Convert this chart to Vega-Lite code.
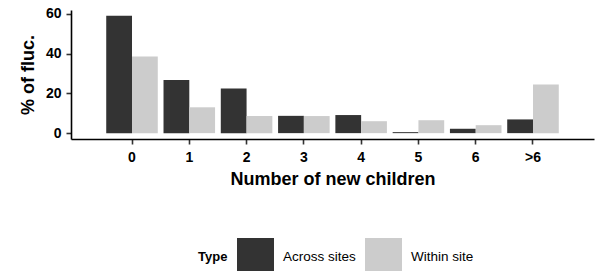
{
  "$schema": "https://vega.github.io/schema/vega-lite/v6.json",
  "width": 523,
  "height": 129,
  "autosize": {"type": "none"},
  "padding": {"left": 71, "top": 10, "right": 2, "bottom": 132},
  "background": "white",
  "config": {
    "view": {"stroke": null},
    "font": "Liberation Sans",
    "axis": {"grid": false, "domainColor": "black", "domainWidth": 1.6, "tickColor": "#333333", "tickWidth": 1.6, "tickSize": 5, "labelColor": "black", "labelFontWeight": "bold", "titleColor": "black", "titleFontWeight": "bold"}
  },
  "data": {
    "values": [
      {"children": "0", "Type": "Across sites", "pct": 59},
      {"children": "0", "Type": "Within site", "pct": 38.5},
      {"children": "1", "Type": "Across sites", "pct": 26.7},
      {"children": "1", "Type": "Within site", "pct": 13},
      {"children": "2", "Type": "Across sites", "pct": 22.5},
      {"children": "2", "Type": "Within site", "pct": 8.6},
      {"children": "3", "Type": "Across sites", "pct": 8.7},
      {"children": "3", "Type": "Within site", "pct": 8.6},
      {"children": "4", "Type": "Across sites", "pct": 9.1},
      {"children": "4", "Type": "Within site", "pct": 6},
      {"children": "5", "Type": "Across sites", "pct": 0.5},
      {"children": "5", "Type": "Within site", "pct": 6.5},
      {"children": "6", "Type": "Across sites", "pct": 2.2},
      {"children": "6", "Type": "Within site", "pct": 4},
      {"children": ">6", "Type": "Across sites", "pct": 6.9},
      {"children": ">6", "Type": "Within site", "pct": 24.5}
    ]
  },
  "mark": {"type": "bar"},
  "encoding": {
    "x": {
      "field": "children", "type": "nominal",
      "sort": ["0", "1", "2", "3", "4", "5", "6", ">6"],
      "scale": {"paddingInner": 0.1, "paddingOuter": 0.615},
      "axis": {"title": "Number of new children", "labelAngle": 0, "labelFontSize": 14, "labelPadding": 6, "titleFontSize": 18, "titlePadding": 6}
    },
    "xOffset": {
      "field": "Type", "type": "nominal",
      "scale": {"paddingInner": 0, "paddingOuter": 0}
    },
    "y": {
      "field": "pct", "type": "quantitative",
      "scale": {"domain": [-2.95, 61.95], "nice": false, "zero": false},
      "axis": {"title": "% of fluc.", "values": [0, 20, 40, 60], "labelFontSize": 14, "labelPadding": 5, "titleFontSize": 18, "titlePadding": 8}
    },
    "color": {
      "field": "Type", "type": "nominal",
      "scale": {"domain": ["Across sites", "Within site"], "range": ["#333333", "#cccccc"]},
      "legend": {
        "orient": "none", "direction": "horizontal", "legendX": 127, "legendY": 228,
        "titleOrient": "left", "title": "Type", "titleFontSize": 13, "titleFontWeight": "bold", "titleColor": "black",
        "symbolType": "square", "symbolSize": 1369, "symbolStrokeWidth": 0, "symbolOpacity": 1,
        "labelFontSize": 13.5, "labelColor": "black", "labelOffset": 9, "columnPadding": 9, "titlePadding": 9
      }
    }
  }
}
